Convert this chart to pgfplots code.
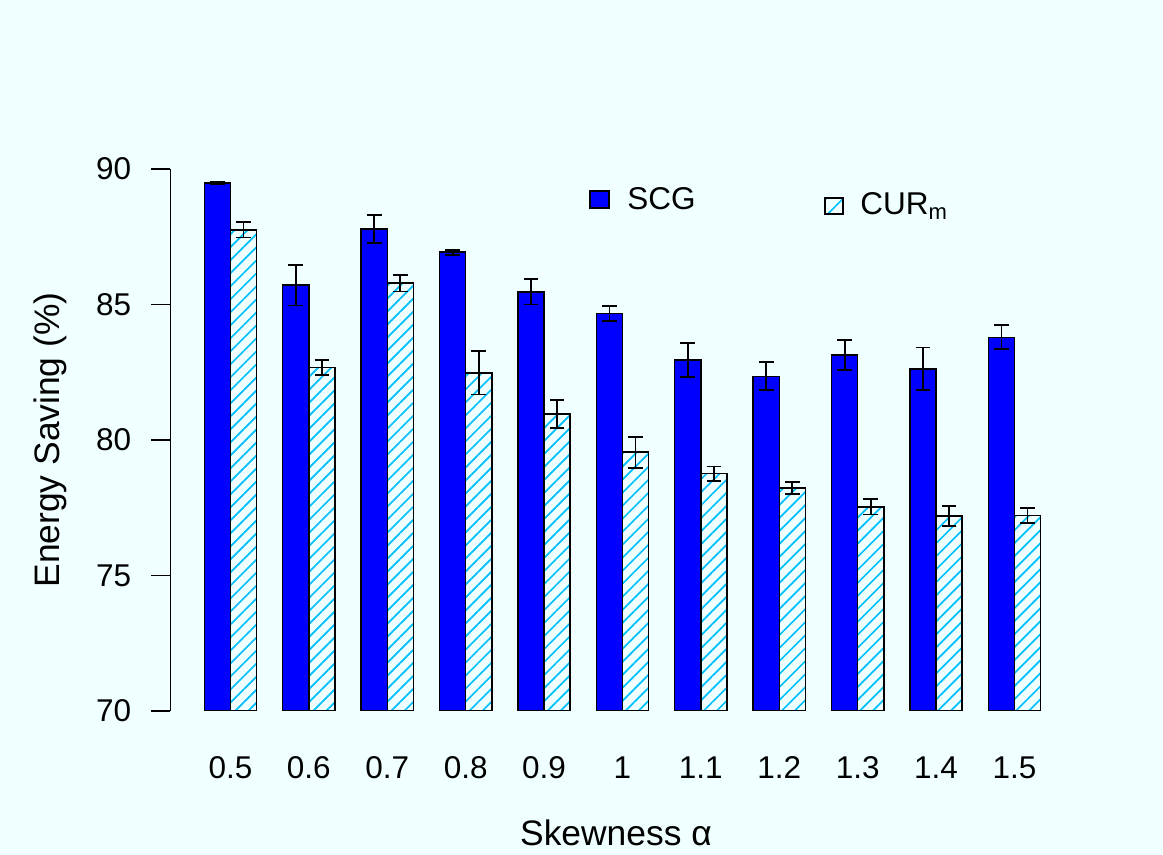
\documentclass[border=0pt]{standalone}
\usepackage{fontspec}
\setmainfont{Liberation Sans}
\usepackage{pgfplots}
\pgfplotsset{compat=1.18}
\usepackage{pgfplotstable}
\usetikzlibrary{patterns.meta}

\definecolor{bg}{HTML}{F0FFFF}
\definecolor{hatch}{HTML}{00BFFF}

% Energy saving (%) per skewness value, mean and error half-width
\pgfplotstableread{
x  scg   scgerr  cur    curerr
0  89.48 0.05    87.75  0.28
1  85.71 0.75    82.67  0.28
2  87.79 0.51    85.79  0.31
3  86.93 0.09    82.48  0.80
4  85.47 0.47    80.96  0.51
5  84.66 0.28    79.55  0.57
6  82.95 0.62    78.76  0.26
7  82.35 0.52    78.23  0.22
8  83.14 0.55    77.53  0.28
9  82.62 0.79    77.20  0.37
10 83.79 0.44    77.22  0.27
}\energy

\newcommand{\tickfont}{\fontsize{15.75pt}{18pt}\selectfont}
\newcommand{\labfont}{\fontsize{17.7pt}{20pt}\selectfont}

\begin{document}
\begin{tikzpicture}
\fill[bg] (-85.25pt,-72pt) rectangle (496.25pt,355.5pt);
\begin{axis}[
  scale only axis, width=451.5pt, height=271pt,
  xmin=-0.765, xmax=10.753, ymin=70, ymax=90,
  /pgf/number format/assume math mode=true,
  axis lines*=left,
  x axis line style={draw=none},
  y axis line style={-, line width=0.75pt},
  xtick={0,...,10},
  xticklabels={0.5,0.6,0.7,0.8,0.9,1,1.1,1.2,1.3,1.4,1.5},
  xtick style={draw=none},
  ytick={70,75,80,85,90},
  ytick style={line width=0.75pt, black},
  tick align=outside,
  major tick length=9.5pt,
  yticklabel style={font=\tickfont, anchor=east, inner sep=0pt, xshift=-10pt},
  xticklabel style={font=\tickfont, anchor=base, inner sep=0pt, yshift=-24.5pt},
  ylabel={Energy Saving (\%)},
  xlabel={Skewness α},
  every axis y label/.style={at={(axis description cs:0,0.5)}, xshift=-60.25pt, rotate=90, anchor=center, font=\labfont},
  every axis x label/.style={at={(axis description cs:0.5,0)}, yshift=-67.5pt, xshift=-3pt, anchor=base, font=\labfont},
  ybar, bar width=0.3333,
  error bars/y dir=both, error bars/y explicit,
  error bars/error mark=|,
  error bars/error bar style={line width=0.9pt, black},
  error bars/error mark options={black, line width=0.9pt, mark size=3.67pt},
]
\addplot[fill=blue, draw=black, line width=0.75pt, bar shift=-0.16667]
  table[x=x, y=scg, y error=scgerr] {\energy};
\addplot[pattern={Lines[angle=45, distance=4.6pt, line width=0.85pt]}, pattern color=hatch,
  draw=black, line width=0.75pt, bar shift=0.16667]
  table[x=x, y=cur, y error=curerr] {\energy};
\end{axis}
% legend
\filldraw[fill=blue, draw=black, line width=0.7pt] (209.75pt,251.5pt) rectangle (219.25pt,260pt);
\node[anchor=base west, inner sep=0pt, font=\tickfont] at (228.25pt,250.5pt) {SCG};
\fill[bg] (327.25pt,248.5pt) rectangle (336.25pt,256.5pt);
\draw[pattern={Lines[angle=45, distance=6pt, line width=0.8pt]}, pattern color=hatch, draw=black, line width=0.7pt]
  (327.25pt,248.5pt) rectangle (336.25pt,256.5pt);
\node[anchor=base west, inner sep=0pt, font=\tickfont] at (344.75pt,248pt) {CUR\textsubscript{m}};
\pgfresetboundingbox
\useasboundingbox (-85.25pt,-72pt) rectangle (496.25pt,355.5pt);
\end{tikzpicture}
\end{document}
